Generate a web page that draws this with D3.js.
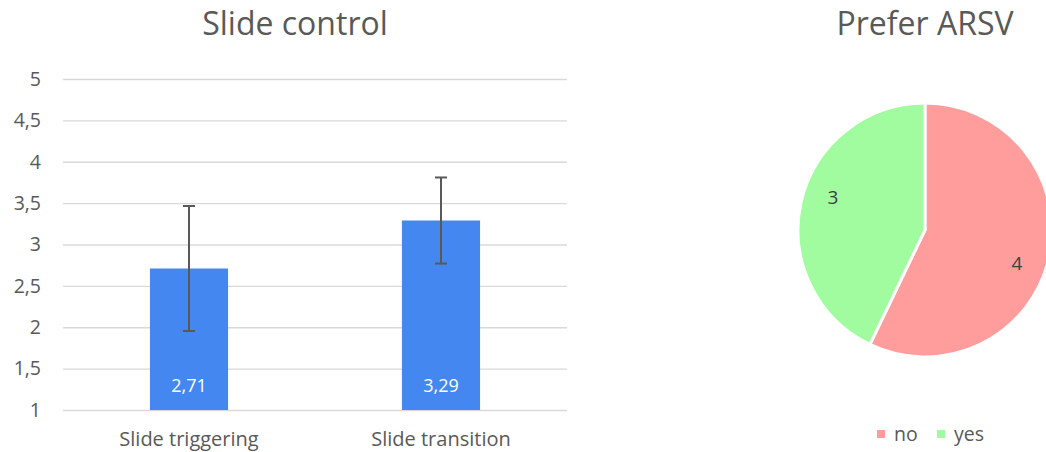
<!DOCTYPE html>
<html>
<head>
<meta charset="utf-8">
<script src="https://cdn.jsdelivr.net/npm/d3@7"></script>
<style>
  html, body { margin: 0; padding: 0; background: #fff; }
  svg { display: block; font-family: "Open Sans", sans-serif; }
</style>
</head>
<body>
<svg id="chart" width="1046" height="452"></svg>
<script>
// Bar chart: mean rating with standard deviation
const barCategories = ["Slide triggering", "Slide transition"];
const barMeans = [2.71, 3.29];
const barErrors = [0.755, 0.52];
const barLabels = ["2,71", "3,29"];
const yTicks = [1, 1.5, 2, 2.5, 3, 3.5, 4, 4.5, 5];

// Pie chart: preference counts
const pieCategories = ["no", "yes"];
const pieValues = [4, 3];

const textColor = "#595959";
const svg = d3.select("#chart");

// ---- Bar chart ----
const x = d3.scaleBand().domain(barCategories).range([63, 567])
  .paddingInner(0.69).paddingOuter(0.345);
const y = d3.scaleLinear().domain([1, 5]).range([410, 79]);
const fmt = v => String(v).replace(".", ",");

svg.append("text").attr("x", 295).attr("y", 35).attr("text-anchor", "middle")
  .attr("font-size", 32).attr("fill", textColor).text("Slide control");

const yAxis = svg.append("g").attr("transform", "translate(63,0)")
  .call(d3.axisLeft(y).tickValues(yTicks).tickFormat(fmt).tickSize(-504).tickPadding(22));
yAxis.select(".domain").remove();
yAxis.selectAll(".tick line").attr("stroke", "#d9d9d9").attr("stroke-width", 1.3);
yAxis.selectAll(".tick text").attr("fill", textColor).attr("font-size", 19.5)
  .attr("font-family", "Open Sans, sans-serif");

svg.selectAll("rect.bar").data(barMeans).join("rect").attr("class", "bar")
  .attr("x", (d, i) => x(barCategories[i]))
  .attr("width", x.bandwidth())
  .attr("y", d => y(d))
  .attr("height", d => y(1) - y(d))
  .attr("fill", "#4587f1");

// error bars
const eg = svg.append("g").attr("stroke", "#595959").attr("stroke-width", 2);
barMeans.forEach((m, i) => {
  const cx = x(barCategories[i]) + x.bandwidth() / 2;
  eg.append("line").attr("x1", cx).attr("x2", cx).attr("y1", y(m + barErrors[i])).attr("y2", y(m - barErrors[i]));
  [m + barErrors[i], m - barErrors[i]].forEach(v => {
    eg.append("line").attr("x1", cx - 6).attr("x2", cx + 6).attr("y1", y(v)).attr("y2", y(v));
  });
});

svg.selectAll("text.val").data(barMeans).join("text").attr("class", "val")
  .attr("x", (d, i) => x(barCategories[i]) + x.bandwidth() / 2)
  .attr("y", 392).attr("text-anchor", "middle").attr("font-size", 18)
  .attr("fill", "#fff").text((d, i) => barLabels[i]);

svg.selectAll("text.cat").data(barCategories).join("text").attr("class", "cat")
  .attr("x", d => x(d) + x.bandwidth() / 2).attr("y", 446)
  .attr("text-anchor", "middle").attr("font-size", 20).attr("fill", textColor).text(d => d);

// ---- Pie chart ----
const pieColor = d3.scaleOrdinal().domain(pieCategories).range(["#ff9d9d", "#a0fc9e"]);
const cx = 925, cy = 230, r = 127;

svg.append("text").attr("x", cx).attr("y", 35).attr("text-anchor", "middle")
  .attr("font-size", 32).attr("fill", textColor).text("Prefer ARSV");

const pie = d3.pie().sort(null).value(d => d)(pieValues);
const arc = d3.arc().innerRadius(0).outerRadius(r);
const pg = svg.append("g").attr("transform", `translate(${cx},${cy})`);
pg.selectAll("path").data(pie).join("path")
  .attr("d", arc).attr("fill", (d, i) => pieColor(pieCategories[i]))
  .attr("stroke", "#fff").attr("stroke-width", 3);

// value labels placed inside each slice, slightly past the slice midpoint
const labelPos = d => {
  const a = (d.startAngle + d.endAngle) / 2 + 0.12;
  const rr = r * 0.77;
  return [Math.sin(a) * rr, -Math.cos(a) * rr];
};
pg.selectAll("text").data(pie).join("text")
  .attr("transform", d => `translate(${labelPos(d)})`)
  .attr("text-anchor", "middle").attr("dy", "0.35em")
  .attr("font-size", 19).attr("fill", "#404040").text(d => d.value);

// legend
const legendX = [877, 937];
const lg = svg.append("g");
pieCategories.forEach((c, i) => {
  lg.append("rect").attr("x", legendX[i]).attr("y", 430).attr("width", 8).attr("height", 8).attr("fill", pieColor(c));
  lg.append("text").attr("x", legendX[i] + 17).attr("y", 441).attr("font-size", 19.5)
    .attr("fill", textColor).text(c);
});
</script>
</body>
</html>
